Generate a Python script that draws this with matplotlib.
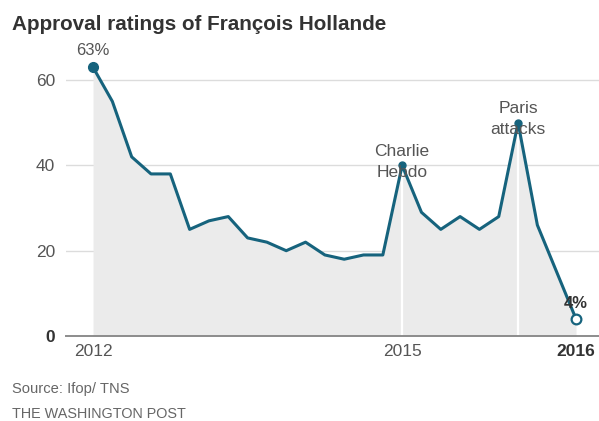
import matplotlib
matplotlib.use("Agg")
import matplotlib.pyplot as plt

plt.rcParams['font.family'] = ['Liberation Sans', 'DejaVu Sans']

# approval ratings (%), one value per poll period
period = [0, 1, 2, 3, 4, 5, 6, 7, 8, 9, 10, 11, 12, 13, 14, 15, 16, 17, 18, 19, 20, 21, 22, 23, 25]
rating = [63, 55, 42, 38, 38, 25, 27, 28, 23, 22, 20, 22, 19, 18, 19, 19,
          40, 29, 25, 28, 25, 28, 50, 26, 4]

year_ticks = [0, 16, 25]
year_labels = ['2012', '2015', '2016']
y_ticks = [0, 20, 40, 60]

events = {16: 'Charlie\nHebdo', 22: 'Paris\nattacks'}

line_col = '#16637d'
fill_col = '#ebebeb'
text_col = '#555555'

W, H = 599, 421
fig = plt.figure(figsize=(W / 100, H / 100), dpi=100)
ax = fig.add_axes([66 / W, (H - 336) / H, (W - 66) / W, (336 - 40) / H])

ax.fill_between(period, rating, 0, color=fill_col, lw=0, zorder=1)
for i, lab in events.items():
    v = rating[period.index(i)]
    ax.plot([i, i], [0, v], color='white', lw=1.6, zorder=2)

for t in y_ticks[1:]:
    ax.axhline(t, color='#dcdcdc', lw=1, zorder=0)
ax.axhline(0, color='#8c8c8c', lw=1.4, zorder=3, clip_on=False)

ax.plot(period, rating, color=line_col, lw=2.2, zorder=4, solid_joinstyle='round')
ax.plot(period[0], rating[0], 'o', color=line_col, ms=7, zorder=5, clip_on=False)
for i in events:
    ax.plot(i, rating[period.index(i)], 'o', color=line_col, ms=5, zorder=5)
ax.plot(period[-1], rating[-1], 'o', mfc='white', mec=line_col, mew=1.6, ms=7,
        zorder=5, clip_on=False)

# labels
ax.annotate('%d%%' % rating[0], (period[0], rating[0]), xytext=(0, 6.5),
            textcoords='offset points', ha='center', va='bottom',
            fontsize=12, color=text_col)
for i, lab in events.items():
    ax.annotate(lab, (i, rating[period.index(i)]), xytext=(0, -10.5),
                textcoords='offset points', ha='center', va='bottom',
                fontsize=12.5, color=text_col, linespacing=1.5, zorder=6)
ax.annotate('%d%%' % rating[-1], (period[-1], rating[-1]), xytext=(0, 6),
            textcoords='offset points', ha='center', va='bottom',
            fontsize=12, color='#333333', fontweight='bold', zorder=6)

ax.set_xlim(-1.40, 26.19)
ax.set_ylim(0, 69.4)
ax.set_xticks(year_ticks)
ax.set_xticklabels(year_labels, fontsize=12.5, color=text_col)
ax.get_xticklabels()[-1].set_fontweight('bold')
ax.get_xticklabels()[-1].set_color('#333333')
ax.set_yticks(y_ticks)
ax.set_yticklabels([str(t) for t in y_ticks], fontsize=12.5, color=text_col)
ax.get_yticklabels()[0].set_fontweight('bold')
ax.get_yticklabels()[0].set_color('#333333')
ax.tick_params(length=0)
ax.tick_params(axis='x', pad=6)
ax.tick_params(axis='y', pad=8)
for s in ax.spines.values():
    s.set_visible(False)

fig.text(12 / W, 1 - 24 / H, 'Approval ratings of François Hollande',
         fontsize=14.9, fontweight='bold', color='#333333', va='center', ha='left')
fig.text(12 / W, 1 - 389 / H, 'Source: Ifop/ TNS', fontsize=10.6,
         color='#666666', va='center', ha='left')
fig.text(12 / W, 1 - 414 / H, 'THE WASHINGTON POST', fontsize=10.4,
         color='#666666', va='center', ha='left')

fig.savefig('out.png', dpi=100, facecolor='white')
